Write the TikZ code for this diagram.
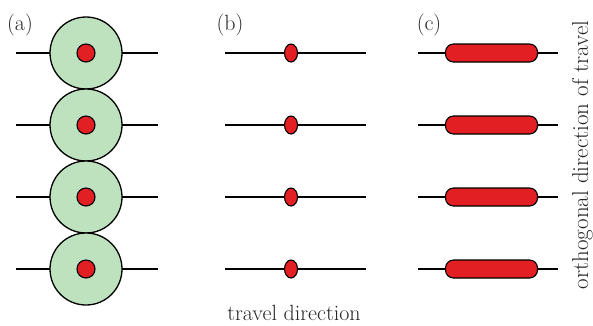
\documentclass[tikz,border=0pt]{standalone}
\definecolor{disk}{RGB}{190,226,190}
\definecolor{dotred}{RGB}{226,32,36}
\tikzset{
  track/.style={line width=1.8pt, black},
  disknode/.style={circle, draw=black, line width=1.3pt, fill=disk, minimum size=72pt, inner sep=0pt},
  dotnode/.style={circle, draw=black, line width=1.1pt, fill=dotred, minimum size=18pt, inner sep=0pt},
  ovalnode/.style={ellipse, draw=black, line width=1.1pt, fill=dotred, minimum width=13pt, minimum height=18pt, inner sep=0pt},
  barnode/.style={rectangle, rounded corners=8pt, draw=black, line width=1.1pt, fill=dotred, minimum width=92pt, minimum height=18pt, inner sep=0pt},
  lbl/.style={font=\fontsize{22}{26}\selectfont, text=black!85, inner sep=0pt}
}
\usetikzlibrary{shapes.geometric}
\begin{document}
\begin{tikzpicture}[x=1pt,y=-1pt]
\useasboundingbox (0,0) rectangle (593,325);
\foreach \r/\y in {1/53,2/125,3/197,4/269}{
  % (a)
  \coordinate (aL\r) at (16,\y);
  \coordinate (aR\r) at (158,\y);
  \draw[track] (aL\r) -- (aR\r);
  \node[disknode] (disk\r) at (86,\y) {};
  \node[dotnode] (dot\r) at (86,\y) {};
  % (b)
  \coordinate (bL\r) at (225,\y);
  \coordinate (bR\r) at (366,\y);
  \draw[track] (bL\r) -- (bR\r);
  \node[ovalnode] (oval\r) at (291,\y) {};
  % (c)
  \coordinate (cL\r) at (418,\y);
  \coordinate (cR\r) at (558,\y);
  \draw[track] (cL\r) -- (cR\r);
  \node[barnode] (bar\r) at (491.5,\y) {};
}
\node[lbl] (la) at (20,25) {(a)};
\node[lbl] (lb) at (230,25) {(b)};
\node[lbl] (lc) at (429,25) {(c)};
\node[lbl, anchor=base] (travel) at (294,320) {travel direction};
\node[lbl, font=\fontsize{23}{27}\selectfont, rotate=90, anchor=base] (ortho) at (588,155) {orthogonal direction of travel};
\end{tikzpicture}
\end{document}
